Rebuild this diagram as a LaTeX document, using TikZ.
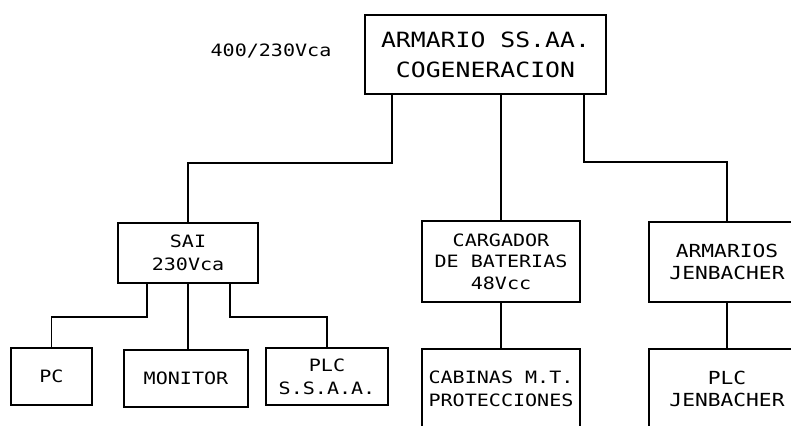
\documentclass[tikz,border=0pt]{standalone}
\usepackage{fontspec}
\newfontfamily\cadfont[FakeStretch=1.18]{DejaVu Sans Mono}
\begin{document}
\begin{tikzpicture}[x=1pt,y=-1pt,
  box/.style={draw,line width=1.5pt,inner sep=0pt,align=center,font=\cadfont\fontsize{17}{23}\selectfont},
  wire/.style={line width=1.5pt},
  lbl/.style={inner sep=0pt,font=\cadfont\fontsize{17}{23}\selectfont}]
\useasboundingbox[fill=white] (0,0) rectangle (791,425);
\node[box,minimum width=241pt,minimum height=79pt,font=\cadfont\fontsize{21}{30}\selectfont] (top) at (485.5,54.5) {ARMARIO SS.AA.\\COGENERACION};
\node[lbl] (volt) at (271,51) {400/230Vca};
\node[box,minimum width=140pt,minimum height=60pt] (sai) at (188,253) {SAI\\230Vca};
\node[box,minimum width=81pt,minimum height=57pt] (pc) at (51.5,376.5) {PC};
\node[box,minimum width=124pt,minimum height=57pt] (mon) at (186,378.5) {MONITOR};
\node[box,minimum width=122pt,minimum height=57pt] (plc) at (327,376.5) {PLC\\S.S.A.A.};
\node[box,minimum width=158pt,minimum height=81pt,font=\cadfont\fontsize{17}{21.5}\selectfont] (carg) at (501,261.5) {CARGADOR\\DE BATERIAS\\48Vcc};
\node[box,minimum width=158pt,minimum height=80pt] (cab) at (501,389) {CABINAS M.T.\\PROTECCIONES};
\node[box,minimum width=156pt,minimum height=80pt,font=\cadfont\fontsize{18}{22}\selectfont] (arm) at (727,262) {ARMARIOS\\JENBACHER};
\node[box,minimum width=156pt,minimum height=80pt,font=\cadfont\fontsize{18}{22}\selectfont] (plcj) at (727,389) {PLC\\JENBACHER};
\coordinate (j1) at (392,163);
\coordinate (j2) at (584,162);
\coordinate (j3) at (147,317);
\coordinate (j4) at (230,317);
\draw[wire] (top.south -| j1) -- (j1) -| (sai.north);
\draw[wire] (top.south -| carg.north) -- (carg.north);
\draw[wire] (top.south -| j2) -- (j2) -| (arm.north);
\draw[wire] (sai.south -| j3) -- (j3) -| (pc.north);
\draw[wire] (sai.south) -- (sai.south |- mon.north);
\draw[wire] (sai.south -| j4) -- (j4) -| (plc.north);
\draw[wire] (carg.south) -- (cab.north);
\draw[wire] (arm.south) -- (plcj.north);
\end{tikzpicture}
\end{document}
